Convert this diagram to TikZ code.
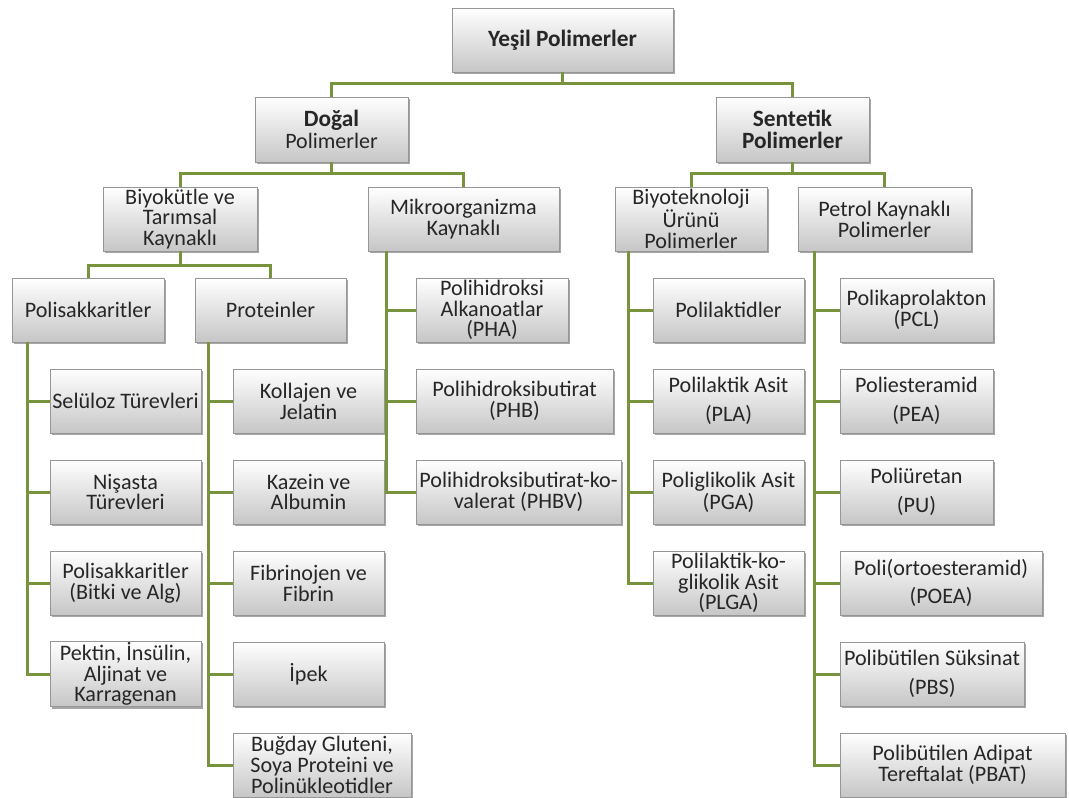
\documentclass[tikz,border=0pt]{standalone}
\usepackage{fontspec}
\setmainfont{Carlito}
\usetikzlibrary{shadows}
\definecolor{lineg}{RGB}{119,147,60}
\definecolor{boxbot}{RGB}{198,198,198}
\definecolor{boxdraw}{RGB}{150,150,150}
\definecolor{txtc}{RGB}{38,38,38}
\newcommand\pbx[7][]{%
  \node[bx,#1,minimum width={(#5-#3)*0.75pt},minimum height={(#6-#4)*0.75pt}]
    (#2) at ({(#3+#5)/2},{(#4+#6)/2}) {#7};}
\begin{document}
\begin{tikzpicture}[x=0.75pt,y=-0.75pt,
  bx/.style={draw=boxdraw, line width=0.6pt, top color=white, bottom color=boxbot,
    drop shadow={shadow xshift=1.3pt, shadow yshift=-1.6pt, fill=black, opacity=0.35},
    align=center, text=txtc, inner sep=0.8pt, font=\fontsize{16.6}{15.6}\selectfont},
  big/.style={font=\fontsize{17.5}{16.5}\selectfont\bfseries},
  conn/.style={draw=lineg, line width=2.25pt}]
\useasboundingbox[fill=white] (0,0) rectangle (1069,798);

% level 0
\pbx[big]{root}{452}{8}{673}{72}{Yeşil Polimerler}
% level 1
\pbx[big]{dogal}{255}{97}{408}{162}{Doğal\\{\fontsize{16.5}{15}\selectfont\mdseries Polimerler}}
\pbx[big]{sentetik}{716}{97}{869}{162}{Sentetik\\Polimerler}
% level 2
\pbx{biyo}{103}{187}{257}{251}{Biyokütle ve\\Tarımsal\\Kaynaklı}
\pbx{mikro}{368}{187}{559}{251}{Mikroorganizma\\Kaynaklı}
\pbx{biyotek}{615}{187}{767}{251}{Biyoteknoloji\\Ürünü\\Polimerler}
\pbx{petrol}{798}{187}{971}{251}{Petrol Kaynaklı\\Polimerler}
% level 3
\pbx{polisak}{12}{278}{164}{342}{Polisakkaritler}
\pbx{protein}{195}{278}{346}{342}{Proteinler}
\pbx{pha}{416}{278}{568}{342}{Polihidroksi\\Alkanoatlar\\(PHA)}
\pbx{polilaktid}{653}{278}{804}{342}{Polilaktidler}
\pbx{pcl}{840}{278}{993}{342}{Polikaprolakton\\(PCL)}
% polisakkaritler children
\pbx{selul}{50}{369}{201}{433}{Selüloz Türevleri}
\pbx{nisasta}{50}{460}{201}{524}{Nişasta\\Türevleri}
\pbx{bitki}{50}{551}{201}{615}{Polisakkaritler\\(Bitki ve Alg)}
\pbx{pektin}{50}{642}{201}{706}{Pektin, İnsülin,\\Aljinat ve\\Karragenan}
% proteinler children
\pbx{kollajen}{233}{369}{384}{433}{Kollajen ve\\Jelatin}
\pbx{kazein}{233}{460}{384}{524}{Kazein ve\\Albumin}
\pbx{fibrin}{233}{551}{384}{615}{Fibrinojen ve\\Fibrin}
\pbx{ipek}{233}{642}{384}{706}{İpek}
\pbx{bugday}{233}{733}{411}{797}{Buğday Gluteni,\\Soya Proteini ve\\Polinükleotidler}
% mikro children
\pbx{phb}{416}{369}{613}{433}{Polihidroksibutirat\\(PHB)}
\pbx{phbv}{416}{460}{621}{524}{Polihidroksibutirat-ko-\\valerat (PHBV)}
% biyotek children
\pbx{pla}{653}{369}{804}{433}{Polilaktik Asit\\[6pt](PLA)}
\pbx{pga}{653}{460}{804}{524}{Poliglikolik Asit\\[1pt](PGA)}
\pbx{plga}{653}{551}{804}{615}{Polilaktik-ko-\\glikolik Asit\\(PLGA)}
% petrol children
\pbx{pea}{840}{369}{993}{433}{Poliesteramid\\[6pt](PEA)}
\pbx{pu}{840}{460}{993}{524}{Poliüretan\\[6pt](PU)}
\pbx{poea}{840}{551}{1042}{615}{Poli(ortoesteramid)\\[6pt](POEA)}
\pbx{pbs}{840}{642}{1024}{706}{Polibütilen Süksinat\\[6pt](PBS)}
\pbx{pbat}{840}{733}{1065}{797}{Polibütilen Adipat\\Tereftalat (PBAT)}

% tree connectors
\draw[conn] (root.south) -- ++(0,11) -| (dogal.north);
\draw[conn] (root.south) -- ++(0,11) -| (sentetik.north);
\draw[conn] (dogal.south) -- ++(0,11) -| (biyo.north);
\draw[conn] (dogal.south) -- ++(0,11) -| (mikro.north);
\draw[conn] (sentetik.south) -- ++(0,11) -| (biyotek.north);
\draw[conn] (sentetik.south) -- ++(0,11) -| (petrol.north);
\draw[conn] (biyo.south) -- ++(0,14) -| (polisak.north);
\draw[conn] (biyo.south) -- ++(0,14) -| (protein.north);

% spines
\coordinate (sp1) at ([xshift=12pt]polisak.south west);
\coordinate (sp2) at ([xshift=10.5pt]protein.south west);
\coordinate (sp3) at ([xshift=14.25pt]mikro.south west);
\coordinate (sp4) at ([xshift=10.5pt]biyotek.south west);
\coordinate (sp5) at ([xshift=12.75pt]petrol.south west);
\foreach \c in {selul,nisasta,bitki,pektin} \draw[conn] (sp1) |- (\c.west);
\foreach \c in {kollajen,kazein,fibrin,ipek,bugday} \draw[conn] (sp2) |- (\c.west);
\foreach \c in {pha,phb,phbv} \draw[conn] (sp3) |- (\c.west);
\foreach \c in {polilaktid,pla,pga,plga} \draw[conn] (sp4) |- (\c.west);
\foreach \c in {pcl,pea,pu,poea,pbs,pbat} \draw[conn] (sp5) |- (\c.west);
\end{tikzpicture}
\end{document}
